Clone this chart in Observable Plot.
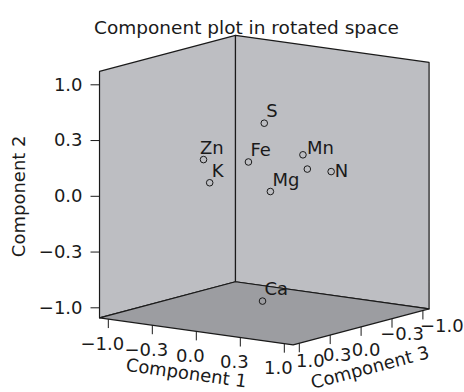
<!DOCTYPE html>
<html><head><meta charset="utf-8">
<script src="https://cdn.jsdelivr.net/npm/d3@7"></script>
<script src="https://cdn.jsdelivr.net/npm/@observablehq/plot@0.6"></script>
<style>
html,body{margin:0;padding:0;background:#fff;}
#chart{width:464px;height:392px;}
</style></head><body><div id="chart"></div>
<script>
// ---- data ----
const title = "Component plot in rotated space";
const labels = ["S", "Zn", "K", "Fe", "Mn", "", "N", "Mg", "Ca"];
const comp1 = [0.14, -0.48, -0.41, -0.11, 0.72, 0.84, 0.90, 0.35, 0.05];
const comp2 = [0.66, 0.28, 0.08, 0.27, 0.47, 0.37, 0.31, 0.10, -0.96];
const comp3 = [0.20, 0.30, 0.30, 0.10, 0.40, 0.50, 0.20, 0.40, 0.10];
const tickValues = [-1, -0.5, 0, 0.5, 1];
const tickLabels = ["\u22121.0", "\u22120.3", "0.0", "0.3", "1.0"];
const axisTitles = ["Component 1", "Component 2", "Component 3"];

// ---- oblique 3D projection (component space -> screen) ----
const dom1 = [-1.1, 1.1], dom2 = [-1.09, 1.12], dom3 = [-1.1, 1.1];
const origin = [263.8, 191.3];
const e1 = [88, 12.3], e2 = [0, -111.5], e3 = [-61.8, 16.4];
function P(a, b, c) {
  return {x: origin[0] + a*e1[0] + b*e2[0] + c*e3[0],
          y: origin[1] + a*e1[1] + b*e2[1] + c*e3[1]};
}
const [a0, a1] = dom1, [b0, b1] = dom2, [c0, c1] = dom3;
const faceDefs = {
  left:  [[a0,b0,c1],[a0,b1,c1],[a0,b1,c0],[a0,b0,c0]],
  right: [[a0,b0,c0],[a0,b1,c0],[a1,b1,c0],[a1,b0,c0]],
  floor: [[a0,b0,c1],[a1,b0,c1],[a1,b0,c0],[a0,b0,c0]]
};
const faceRows = name => [...faceDefs[name], faceDefs[name][0]].map(p => P(...p));

const points = labels.map((l, i) => ({label: l, ...P(comp1[i], comp2[i], comp3[i])}));
// label placement (layout only)
const nudge = {Zn: [-3.5, -6], Mn: [4, -1], N: [3.5, 5]};
const nd = d => nudge[d.label] || [2, -6];
const c3Shift = [[19, 16], [10, 15.5], [5, 23], [7, 20.5], [11, 17.5]];

const ticks1 = tickValues.map((v, i) => ({i, label: tickLabels[i], ...P(v, b0, c1)}));
const ticks2 = tickValues.map((v, i) => ({i, label: tickLabels[i], ...P(a0, v, c1)}));
const ticks3 = tickValues.map((v, i) => ({i, label: tickLabels[i], ...P(a1, b0, v)}));

const font = "DejaVu Sans";
const ink = "#1a1a1a";
const edge = {stroke: ink, strokeWidth: 1.2, strokeLinejoin: "round"};
const ang1 = Math.atan2(e1[1], e1[0]) * 180 / Math.PI;
const ang3 = Math.atan2(-e3[1], -e3[0]) * 180 / Math.PI;
const t1 = P(0, b0, c1), t2 = P(a0, 0, c1), t3 = P(a1, b0, 0);

const chart = Plot.plot({
  width: 464, height: 392, margin: 0,
  x: {domain: [0, 464], range: [0, 464], axis: null},
  y: {domain: [0, 392], range: [0, 392], axis: null},
  style: {fontFamily: font, fontSize: "18px", background: "#fff", color: ink},
  marks: [
    Plot.line(faceRows("left"), {x: "x", y: "y", fill: "#bdbec2", ...edge}),
    Plot.line(faceRows("right"), {x: "x", y: "y", fill: "#bdbec2", ...edge}),
    Plot.line(faceRows("floor"), {x: "x", y: "y", fill: "#9c9da1", ...edge}),
    // axis ticks
    Plot.link(ticks2, {x1: d => d.x - 9, y1: "y", x2: "x", y2: "y", stroke: ink, strokeWidth: 1}),
    Plot.link(ticks1, {x1: "x", y1: "y", x2: "x", y2: d => d.y + 9, stroke: ink, strokeWidth: 1}),
    Plot.link(ticks3, {x1: "x", y1: "y", x2: "x", y2: d => d.y + 9, stroke: ink, strokeWidth: 1}),
    Plot.text(ticks2, {x: "x", y: "y", text: "label", textAnchor: "end", dx: -17, fontSize: 18, fill: ink}),
    Plot.text(ticks1, {x: "x", y: "y", text: "label", textAnchor: "middle", dx: -6, dy: 25, fontSize: 18, fill: ink}),
    Plot.text(ticks3, {x: d => d.x + c3Shift[d.i][0], y: d => d.y + c3Shift[d.i][1], text: "label", textAnchor: "middle", fontSize: 18, fill: ink}),
    // axis titles
    Plot.text([axisTitles[0]], {x: () => t1.x, y: () => t1.y, dx: -10, dy: 42, rotate: ang1, fontSize: 18, fill: ink}),
    Plot.text([axisTitles[1]], {x: () => t2.x, y: () => t2.y, dx: -80, rotate: -90, fontSize: 18, fill: ink}),
    Plot.text([axisTitles[2]], {x: () => t3.x, y: () => t3.y, dx: 9, dy: 41, rotate: ang3, fontSize: 18, fill: ink}),
    // points
    Plot.dot(points, {x: "x", y: "y", r: 3.3, stroke: ink, strokeWidth: 1, fill: "none"}),
    Plot.text(points, {x: d => d.x + nd(d)[0], y: d => d.y + nd(d)[1], text: "label", textAnchor: "start", lineAnchor: "bottom", fontSize: 18, fill: ink}),
    // title
    Plot.text([title], {frameAnchor: "top", dx: 14, dy: 20, fontSize: 18.5, fill: ink})
  ]
});
document.getElementById("chart").appendChild(chart);
</script></body></html>
